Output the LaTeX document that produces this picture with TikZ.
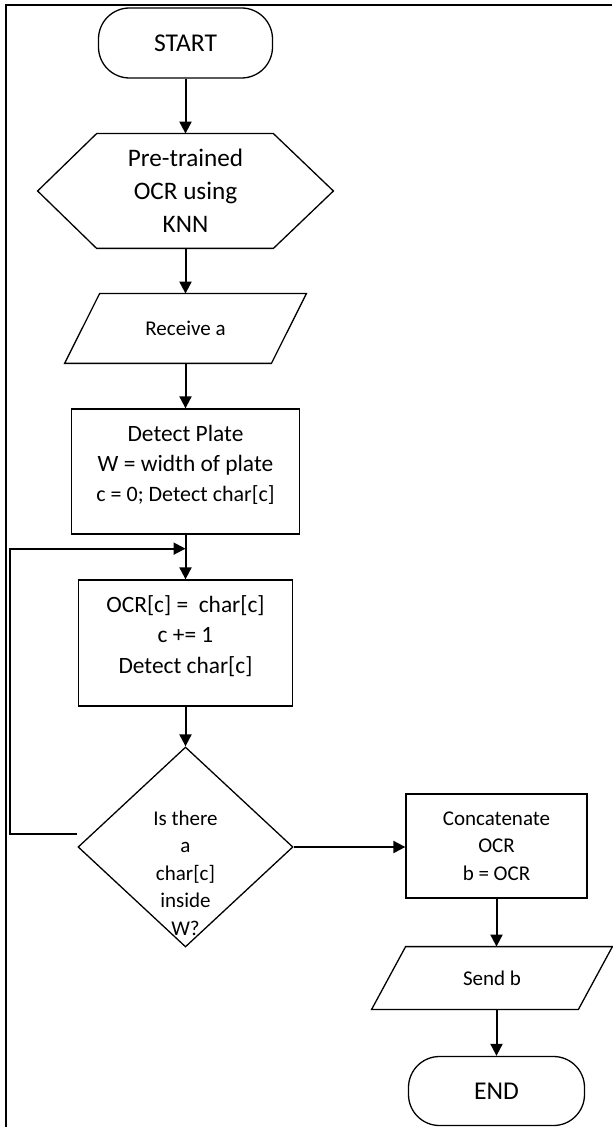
\documentclass[tikz,border=0pt]{standalone}
\usepackage{fontspec}
\setmainfont{Carlito}
\usetikzlibrary{arrows.meta,calc,shapes.geometric}
\newcommand\fsz[2]{\fontsize{#1}{#2}\selectfont}
\begin{document}
\begin{tikzpicture}[x=0.5pt,y=-0.5pt,
  outline/.style={draw, line width=0.65pt},
  box/.style={outline, inner sep=0pt, align=center},
  txt/.style={inner sep=0pt, align=center},
  arr/.style={line width=1pt, -{Triangle[length=6pt,width=6pt]}},
  frame/.style={line width=1pt}]
\useasboundingbox (0,0) rectangle (612,1127);
% frame
\draw[frame] (6,1127) -- (6,5.5) -- (612,5.5);

% nodes
\node[box, rounded corners=15.5pt, minimum width=87pt, minimum height=35pt, font=\fsz{12.8}{15}] (start) at (185.5,43) {START};

\node[txt, minimum width=147.5pt, minimum height=57pt, font=\fsz{12.6}{16.5}] (pre) at (185.5,191) {Pre-trained\\OCR using\\KNN};
\draw[outline] (pre.west) -- ($(pre.north west)+(59,0)$) -- ($(pre.north east)+(-60,0)$) -- (pre.east) -- ($(pre.south east)+(-60,0)$) -- ($(pre.south west)+(59,0)$) -- cycle;

\node[txt, minimum width=120.5pt, minimum height=34.5pt, font=\fsz{10.5}{13}] (recv) at (185.5,328.5) {Receive a};
\draw[outline] (recv.south west) -- ($(recv.north west)+(35,0)$) -- (recv.north east) -- ($(recv.south east)+(-35,0)$) -- cycle;

\node[box, minimum width=114pt, minimum height=62.5pt] (det) at (185.5,471.5) {};
\node[txt, font=\fsz{11.7}{15}] (dett) at (185.5,465) {Detect Plate\\W = width of plate\\{\fsz{11}{15.5}c = 0; Detect char[c]}};

\node[box, minimum width=107pt, minimum height=63pt] (ocr) at (185.5,643) {};
\node[txt, font=\fsz{11.7}{15.2}] (ocrt) at (185.5,636) {OCR[c] =\ \ char[c]\\c += 1\\Detect char[c]};

\node[outline, diamond, minimum width=107.5pt, minimum height=100pt, inner sep=0pt] (dec) at (185.5,847) {};
\node[txt, font=\fsz{10.5}{13.75}] (dect) at (185.5,873) {Is there\\a\\char[c]\\inside\\W?};

\node[box, minimum width=90.5pt, minimum height=52pt, font=\fsz{10.5}{13.75}] (conc) at (496.5,846) {Concatenate\\OCR\\b = OCR};

\node[txt, minimum width=120pt, minimum height=31pt, font=\fsz{10.5}{13}] (send) at (492,978) {Send b};
\draw[outline] (send.south west) -- ($(send.north west)+(34,0)$) -- (send.north east) -- ($(send.south east)+(-34,0)$) -- cycle;

\node[box, rounded corners=15.5pt, minimum width=88pt, minimum height=34.5pt, font=\fsz{12.8}{15}] (end) at (496.5,1091) {END};

% connectors
\draw[arr] (start.south) -- (pre.north);
\draw[arr] (pre.south) -- (recv.north);
\draw[arr] (recv.south) -- (det.north);
\coordinate (j) at ($(det.south)+(0,14)$);
\draw[arr] (det.south) -- (ocr.north);
\draw[arr] (ocr.south) -- (dec.north);
\coordinate (lp) at ($(dec.west)+(0,-13)$);
\draw[arr] (lp) -- ++(-67,0) |- (j);
\draw[arr] (dec.east) -- (dec.east -| conc.west);
\draw[arr] (conc.south) -- (conc.south |- send.north);
\draw[arr] (end.north |- send.south) -- (end.north);
\end{tikzpicture}
\end{document}
